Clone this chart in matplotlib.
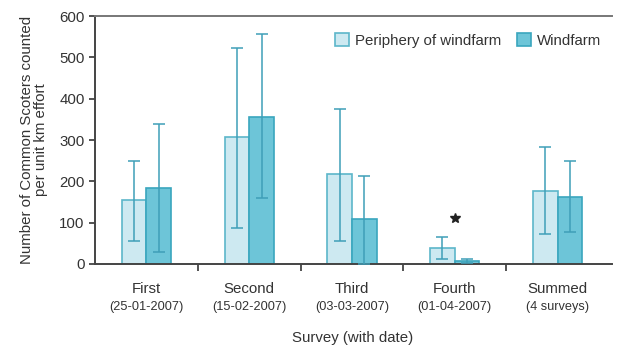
import numpy as np
import matplotlib.pyplot as plt
import matplotlib.transforms as mtransforms

plt.rcParams['font.family'] = ['Liberation Sans', 'DejaVu Sans']

# data
surveys = ['First', 'Second', 'Third', 'Fourth', 'Summed']
dates = ['(25-01-2007)', '(15-02-2007)', '(03-03-2007)', '(01-04-2007)', '(4 surveys)']
periphery = [155, 307, 218, 39, 177]
periphery_hi = [249, 523, 375, 65, 283]
periphery_lo = [56, 87, 56, 13, 72]
windfarm = [184, 356, 109, 8, 162]
windfarm_hi = [339, 557, 213, 13, 249]
windfarm_lo = [29, 160, 0, 3, 77]
star_pos = (3, 111)

x = np.arange(len(surveys))
w = 0.24

fig = plt.figure(figsize=(6.17, 3.5), dpi=100)
ax = fig.add_axes([0.154, 0.246, 0.838, 0.708])

err_col = '#3f9fb8'
p = np.array(periphery)
wf = np.array(windfarm)
ax.bar(x - w/2, p, w, color='#cde9f1', edgecolor='#5cb6ca', linewidth=1.2,
       label='Periphery of windfarm', zorder=2)
ax.bar(x + w/2, wf, w, color='#6dc5d8', edgecolor='#3aa6be', linewidth=1.2,
       label='Windfarm', zorder=2)
ax.errorbar(x - w/2, p, yerr=[p - np.array(periphery_lo), np.array(periphery_hi) - p],
            fmt='none', ecolor=err_col, elinewidth=1.1, capsize=4, capthick=1.1, zorder=3)
ax.errorbar(x + w/2, wf, yerr=[wf - np.array(windfarm_lo), np.array(windfarm_hi) - wf],
            fmt='none', ecolor=err_col, elinewidth=1.1, capsize=4, capthick=1.1, zorder=3)

# significance marker
ax.plot(*star_pos, marker='*', markersize=7, color='#222222', zorder=4)

ax.set_xlim(-0.5, 4.53)
ax.set_ylim(0, 600)
ax.set_yticks(np.arange(0, 601, 100))
ax.set_xticks(x[:-1] + 0.5)
ax.set_xticklabels([])
ax.tick_params(axis='both', direction='out', length=4, width=1.3, colors='#444444',
               labelcolor='#333333', labelsize=10.8)
ax.tick_params(axis='x', length=5)

trans = mtransforms.blended_transform_factory(ax.transData, ax.transAxes)
for i in range(len(surveys)):
    ax.text(x[i], -0.1, surveys[i], transform=trans, ha='center', va='center',
            fontsize=10.8, color='#333333')
    ax.text(x[i], -0.175, dates[i], transform=trans, ha='center', va='center',
            fontsize=9.2, color='#333333')

for s in ['left', 'bottom', 'top']:
    ax.spines[s].set_color('#444444')
    ax.spines[s].set_linewidth(1.4)
ax.spines['top'].set_color('#777777')
ax.spines['right'].set_visible(False)

ax.set_ylabel('Number of Common Scoters counted\nper unit km effort', fontsize=10.8,
              color='#333333', linespacing=1.0, labelpad=8)
fig.text(0.572, 1 - 338 / 350, 'Survey (with date)', ha='center', va='center',
         fontsize=10.8, color='#333333')

ax.legend(loc='upper right', ncol=2, frameon=False, fontsize=10.8, handlelength=0.9,
          handleheight=0.9, columnspacing=1.1, handletextpad=0.4,
          bbox_to_anchor=(1.005, 0.985), labelcolor='#333333')

fig.savefig('out.png', dpi=100)
